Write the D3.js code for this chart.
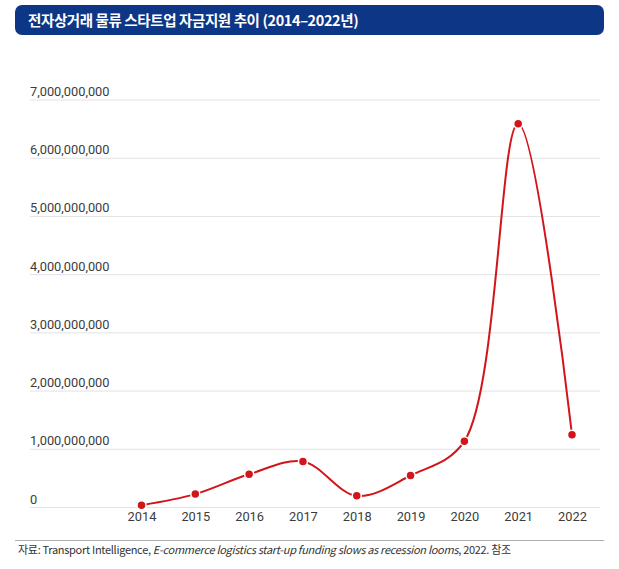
<!DOCTYPE html>
<html>
<head>
<meta charset="utf-8">
<script src="https://cdn.jsdelivr.net/npm/d3@7"></script>
<style>
  body { margin: 0; background: #fff; }
  svg { display: block; }
</style>
</head>
<body>
<svg width="619" height="569"></svg>
<script>
// data
var years = ["2014", "2015", "2016", "2017", "2018", "2019", "2020", "2021", "2022"];
var funding = [40000000, 230000000, 570000000, 790000000, 200000000, 550000000, 1140000000, 6590000000, 1250000000];
var yTicks = [0, 1000000000, 2000000000, 3000000000, 4000000000, 5000000000, 6000000000, 7000000000];

var title = "전자상거래 물류 스타트업 자금지원 추이 (2014–2022년)";

var svg = d3.select("svg");
var red = "#d2141b";

// title bar
svg.append("rect")
    .attr("x", 15).attr("y", 5)
    .attr("width", 589).attr("height", 30)
    .attr("rx", 7)
    .attr("fill", "#0d3686");

svg.append("text")
    .attr("x", 28).attr("y", 25.5)
    .attr("fill", "#fff")
    .attr("font-family", "Noto Sans CJK KR")
    .attr("font-weight", "bold")
    .attr("font-size", "14.5px")
    .attr("letter-spacing", "-0.4px")
    .text(title);

var x = d3.scalePoint()
    .domain(years)
    .range([141.5, 572]);

var y = d3.scaleLinear()
    .domain([0, 7000000000])
    .range([507.5, 100]);

// gridlines
svg.append("g").selectAll("line")
    .data(yTicks)
    .enter().append("line")
      .attr("x1", 30).attr("x2", 600)
      .attr("y1", function(d) { return y(d); })
      .attr("y2", function(d) { return y(d); })
      .attr("stroke", "#e2e2e2")
      .attr("stroke-width", 1);

var fmt = d3.format(",d");

svg.append("g").selectAll("text")
    .data(yTicks)
    .enter().append("text")
      .attr("x", 30)
      .attr("y", function(d) { return y(d) - 4; })
      .attr("font-family", "Roboto")
      .attr("font-size", "12.8px")
      .attr("fill", "#3c3c3c")
      .text(function(d) { return fmt(d); });

// x axis labels
var xAxis = d3.axisBottom(x).tickSize(0).tickPadding(0);
var gx = svg.append("g")
    .attr("transform", "translate(0,512)")
    .call(xAxis);
gx.select(".domain").remove();
gx.selectAll("text")
    .attr("dy", "0.71em")
    .attr("font-family", "Roboto")
    .attr("font-size", "12.8px")
    .attr("fill", "#3c3c3c");

// line
var line = d3.line()
    .x(function(d, i) { return x(years[i]); })
    .y(function(d) { return y(d); })
    .curve(d3.curveCatmullRom.alpha(0.5));

svg.append("path")
    .datum(funding)
    .attr("d", line)
    .attr("fill", "none")
    .attr("stroke", red)
    .attr("stroke-width", 2);

svg.append("g").selectAll("circle")
    .data(funding)
    .enter().append("circle")
      .attr("cx", function(d, i) { return x(years[i]); })
      .attr("cy", function(d) { return y(d); })
      .attr("r", 4.5)
      .attr("fill", red)
      .attr("stroke", "#fff")
      .attr("stroke-width", 1.5);

// footer
svg.append("line")
    .attr("x1", 15).attr("x2", 604)
    .attr("y1", 540.5).attr("y2", 540.5)
    .attr("stroke", "#999")
    .attr("stroke-width", 0.8);

var foot = svg.append("text")
    .attr("x", 18).attr("y", 554)
    .attr("font-family", "Noto Sans CJK KR")
    .attr("font-size", "11px")
    .attr("fill", "#333")
    .attr("letter-spacing", "-0.3px");
foot.append("tspan").text("자료: Transport Intelligence, ");
foot.append("tspan").attr("font-style", "italic").text("E-commerce logistics start-up funding slows as recession looms");
foot.append("tspan").text(", 2022. 참조");
</script>
</body>
</html>
